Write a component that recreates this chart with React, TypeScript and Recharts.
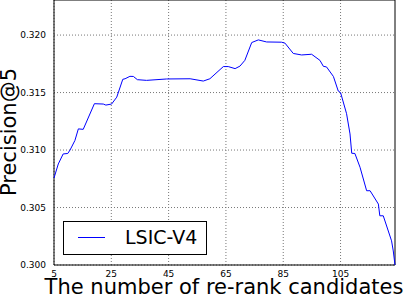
import {
  CartesianGrid,
  Line,
  LineChart,
  ReferenceArea,
  XAxis,
  YAxis,
} from "recharts";

const candidates = [
  5, 6.5, 8.2, 9.8, 10.6, 12.3, 13.5, 15.2, 19.1, 22.2, 23.1, 25.1, 26.9, 29,
  29.8, 31.5, 32.7, 34.1, 37.3, 44.3, 52.5, 57.1, 59.4, 64.1, 65.8, 68.2, 69.9,
  71.6, 74, 76.3, 79.2, 84.4, 85.6, 88.5, 91.4, 94.9, 97.8, 99, 100.1, 102.5,
  104.2, 105, 107.1, 108.3, 108.9, 110, 111.8, 114.1, 115.3, 118.2, 118.7,
  119.9, 122.8, 123.4, 124,
];

const precision = [
  0.30757, 0.30879, 0.30966, 0.3097, 0.31, 0.31083, 0.31184, 0.3118, 0.31403,
  0.314, 0.31391, 0.314, 0.3146, 0.31615, 0.3162, 0.31641, 0.3164, 0.31612,
  0.31606, 0.31618, 0.3162, 0.316, 0.3162, 0.31726, 0.31726, 0.31708, 0.3173,
  0.3178, 0.31935, 0.31958, 0.3194, 0.31938, 0.3193, 0.3184, 0.31827, 0.31833,
  0.3178, 0.31728, 0.31723, 0.3164, 0.31513, 0.315, 0.31316, 0.3114, 0.30972,
  0.3097, 0.3085, 0.30646, 0.30646, 0.3053, 0.30428, 0.30428, 0.3021, 0.30122,
  0.3,
];

const xTicks = [5, 25, 45, 65, 85, 105];
const yTicks = [0.3, 0.305, 0.31, 0.315, 0.32];

const data = candidates.map((x, i) => ({ x, p: precision[i] }));

const font = "'DejaVu Sans', sans-serif";

function LegendBox() {
  return (
    <div
      style={{
        position: "absolute",
        left: 63,
        top: 221,
        width: 144,
        height: 34,
        border: "1px solid #000",
        background: "#fff",
        boxSizing: "border-box",
        fontFamily: font,
      }}
    >
      <div
        style={{
          position: "absolute",
          left: 14,
          top: 15,
          width: 27,
          height: 1,
          background: "#0000ff",
        }}
      />
      <div
        style={{
          position: "absolute",
          left: 61,
          top: 3,
          fontSize: 19,
          lineHeight: "24px",
          color: "#000",
          whiteSpace: "nowrap",
        }}
      >
        LSIC-V4
      </div>
    </div>
  );
}

export default function App() {
  return (
    <div
      style={{
        position: "fixed",
        left: 0,
        top: 0,
        width: 407,
        height: 298,
        background: "#fff",
      }}
    >
      <LineChart
        width={407}
        height={298}
        data={data}
        margin={{ top: 0, right: 12, left: 0, bottom: 0 }}
      >
        <CartesianGrid
          stroke="#777"
          strokeDasharray="1 2"
          horizontalValues={yTicks}
          verticalValues={xTicks}
        />
        <XAxis
          dataKey="x"
          type="number"
          domain={[5, 124]}
          ticks={xTicks}
          height={33}
          axisLine={false}
          tickLine={false}
          tickMargin={0}
          tick={{ fill: "#000", fontSize: 9, fontFamily: font }}
          label={(props: any) => (
            <text
              x={224}
              y={294}
              textAnchor="middle"
              fill="#000"
              fontSize={21}
              fontFamily={font}
            >
              The number of re-rank candidates
            </text>
          )}
        />
        <YAxis
          type="number"
          domain={[0.3, 0.32305]}
          ticks={yTicks}
          width={54}
          axisLine={false}
          tickLine={false}
          tickMargin={2}
          tickFormatter={(v) => Number(v).toFixed(3)}
          tick={{ fill: "#000", fontSize: 9, fontFamily: font }}
          label={(props: any) => (
            <text
              x={0}
              y={0}
              transform="translate(16 132) rotate(-90)"
              textAnchor="middle"
              fill="#000"
              fontSize={21}
              fontFamily={font}
            >
              Precision@5
            </text>
          )}
        />
        <ReferenceArea
          x1={5}
          x2={124}
          y1={0.3}
          y2={0.32305}
          fill="none"
          stroke="#000"
          strokeWidth={1}
        />
        <Line
          dataKey="p"
          stroke="#0000ff"
          strokeWidth={1}
          dot={false}
          type="linear"
          isAnimationActive={false}
        />
      </LineChart>
      <LegendBox />
    </div>
  );
}
